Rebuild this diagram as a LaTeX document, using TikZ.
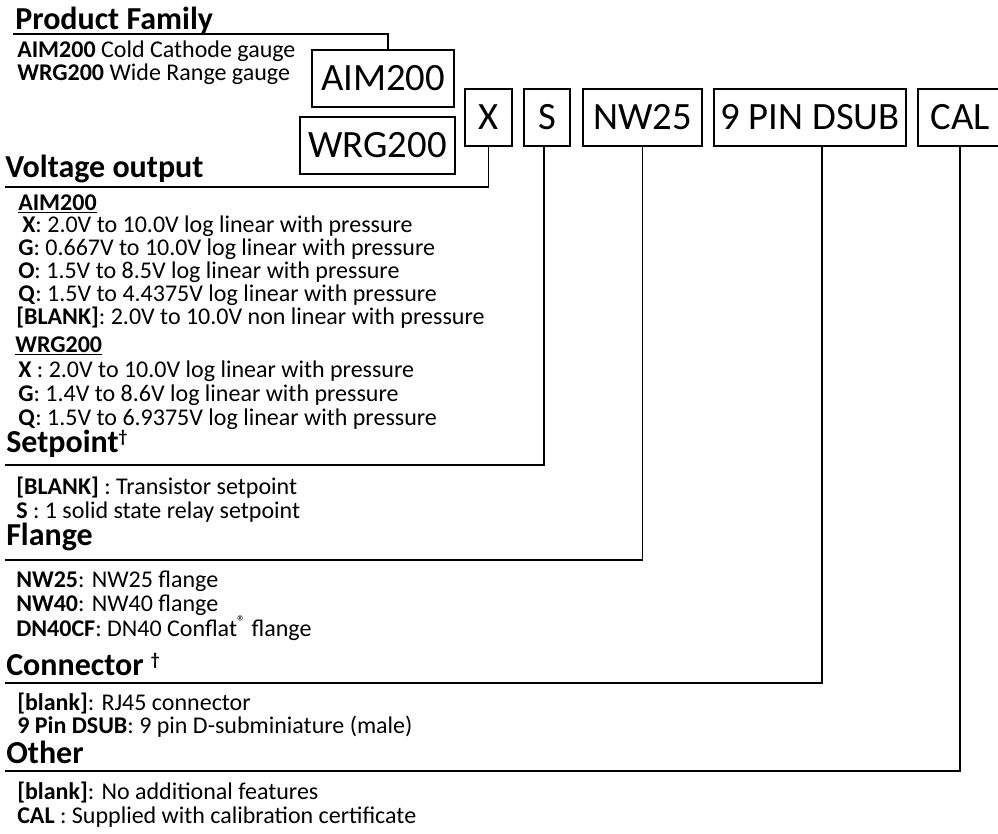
\documentclass[tikz,border=0pt]{standalone}
\usepackage{fontspec}
\setmainfont{Carlito}
\usepackage{tikz}
\usetikzlibrary{positioning}

\newcommand{\itemfnt}{\fontsize{18}{22}\selectfont}
\newcommand{\headfnt}{\fontsize{24}{28}\selectfont\bfseries}
\newcommand{\boxfnt}{\fontsize{29}{33}\selectfont}
\newcommand{\dagmark}{{\fontsize{13}{13}\selectfont\raisebox{7pt}{\bfseries †}}}

\begin{document}
\begin{tikzpicture}[
    x=0.75pt, y=-0.75pt,
    codebox/.style={rectangle, draw, line width=1.4pt, minimum height=42.75pt, inner sep=0pt, font=\boxfnt},
    head/.style={anchor=base west, inner sep=0pt, font=\headfnt},
    item/.style={anchor=base west, inner sep=0pt, font=\itemfnt},
    link/.style={line width=1.4pt}
]
\useasboundingbox (0,0) rectangle (998,834);

% Part number boxes
\node[codebox, minimum width=106.5pt] (aim) at (383,78.5) {AIM200};
\node[codebox, minimum width=116.25pt] (wrg) at (377.5,145.5) {WRG200};
\node[codebox, minimum width=35.25pt] (xcode) at (488.5,117.5) {X};
\node[codebox, minimum width=34.5pt] (scode) at (547,117.5) {S};
\node[codebox, minimum width=89.25pt] (nwcode) at (642.5,117.5) {NW25};
\node[codebox, minimum width=144pt] (dsubcode) at (810,117.5) {9 PIN DSUB};
\node[codebox, minimum width=63pt] (calcode) at (960,117.5) {CAL};

% Product family
\node[head] (family) at (15,30) {Product Family};
\node[item] (famA) at (17,58) {\textbf{AIM200} Cold Cathode gauge};
\node[item] (famW) at (17,81) {\textbf{WRG200} Wide Range gauge};

% Voltage output
\node[head] (volt) at (5,178) {Voltage output};
\node[item] (voltA) at (18,210) {\textbf{\underline{AIM200}}};
\node[item] (voltAX) at (22,233) {\textbf{X}: 2.0V to 10.0V log linear with pressure};
\node[item] (voltAG) at (18,255) {\textbf{G}: 0.667V to 10.0V log linear with pressure};
\node[item] (voltAO) at (18,278) {\textbf{O}: 1.5V to 8.5V log linear with pressure};
\node[item] (voltAQ) at (18,301) {\textbf{Q}: 1.5V to 4.4375V log linear with pressure};
\node[item] (voltAB) at (16,324) {\textbf{[BLANK]}: 2.0V to 10.0V non linear with pressure};
\node[item] (voltW) at (15,352) {\textbf{\underline{WRG200}}};
\node[item] (voltWX) at (18,377) {\textbf{X} : 2.0V to 10.0V log linear with pressure};
\node[item] (voltWG) at (18,401) {\textbf{G}: 1.4V to 8.6V log linear with pressure};
\node[item] (voltWQ) at (18,425) {\textbf{Q}: 1.5V to 6.9375V log linear with pressure};

% Setpoint
\node[head] (setp) at (6,452) {Setpoint\dagmark};
\node[item] (setpB) at (16,494) {\textbf{[BLANK]} : Transistor setpoint};
\node[item] (setpS) at (16,518) {\textbf{S} : 1 solid state relay setpoint};

% Flange
\node[head] (flange) at (6,545) {Flange};
\node[item] (flange25) at (16,587) {\textbf{NW25}: NW25 flange};
\node[item] (flange40) at (16,611) {\textbf{NW40}: NW40 flange};
\node[item] (flangeCF) at (16,636) {\textbf{DN40CF}: DN40 Conflat\textsuperscript{®} flange};

% Connector
\node[head] (conn) at (6,675) {Connector \dagmark};
\node[item] (connB) at (17,710) {\textbf{[blank]}: RJ45 connector};
\node[item] (connD) at (17,733) {\textbf{9 Pin DSUB}: 9 pin D-subminiature (male)};

% Other
\node[head] (other) at (6,763) {Other};
\node[item] (otherB) at (17,799) {\textbf{[blank]}: No additional features};
\node[item] (otherC) at (17,823) {\textbf{CAL} : Supplied with calibration certificate};

% Leader lines
\coordinate (familyL) at (13,34);
\coordinate (voltL) at (5,187);
\coordinate (setpL) at (5,465);
\coordinate (flangeL) at (5,560);
\coordinate (connL) at (5,683);
\coordinate (otherL) at (5,771);

\draw[link] (familyL) -| ([xshift=3.75pt]aim.north);
\draw[link] (xcode.south) |- (voltL);
\draw[link] ([xshift=-2pt]scode.south) |- (setpL);
\draw[link] (nwcode.south) |- (flangeL);
\draw[link] ([xshift=9pt]dsubcode.south) |- (connL);
\draw[link] (calcode.south) |- (otherL);

\end{tikzpicture}
\end{document}
